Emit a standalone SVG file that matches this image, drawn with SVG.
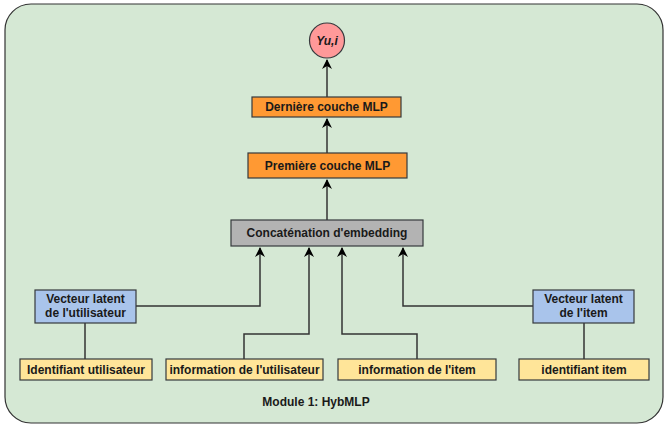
<svg xmlns="http://www.w3.org/2000/svg" width="668" height="426" viewBox="0 0 668 426">
<defs>
<style>
text{font-family:"Liberation Sans",Arial,sans-serif;font-size:12px;font-weight:bold;fill:#1a1a1a;text-anchor:middle;dominant-baseline:central}
.box{stroke:#36393d;stroke-width:1.2}
.or{fill:#FF9933}
.gr{fill:#B3B3B3}
.bl{fill:#A9C4EB}
.ye{fill:#FFE599}
.c{fill:none;stroke:#333;stroke-width:1.5}
</style>
<marker id="ar" viewBox="0 0 10 10" refX="9" refY="5" markerWidth="10" markerHeight="10" markerUnits="userSpaceOnUse" orient="auto">
<path d="M0,0 L10,5 L0,10 L3,5 Z" fill="#000"/>
</marker>
</defs>
<rect id="container" x="5" y="4" width="658" height="419" rx="26" fill="#D5E8D4" stroke="#333" stroke-width="1.2"/>
<g id="connectors">
<path class="c" d="M136,306 H260 V248" marker-end="url(#ar)"/>
<path class="c" d="M244,359 V334 H309 V248" marker-end="url(#ar)"/>
<path class="c" d="M417,359 V334 H342 V248" marker-end="url(#ar)"/>
<path class="c" d="M533,306 H403 V248" marker-end="url(#ar)"/>
<path class="c" d="M85,323 V359"/>
<path class="c" d="M584,323 V359"/>
<path class="c" d="M327,220 V180" marker-end="url(#ar)"/>
<path class="c" d="M327,153 V119" marker-end="url(#ar)"/>
<path class="c" d="M327,97 V60" marker-end="url(#ar)"/>
</g>
<g id="output"><circle class="box" cx="327" cy="40.5" r="17.5" fill="#FF9999"/><text x="327" y="41" font-style="italic">Yu,i</text></g>
<g id="derniere"><rect class="box or" x="252" y="97" width="149" height="20"/><text x="326.5" y="107">Dernière couche MLP</text></g>
<g id="premiere"><rect class="box or" x="248" y="153" width="159" height="25"/><text x="327.5" y="165.5">Première couche MLP</text></g>
<g id="concat"><rect class="box gr" x="231" y="220" width="192" height="26"/><text x="327" y="233">Concaténation d'embedding</text></g>
<g id="vec-user"><rect class="box bl" x="35" y="290" width="101" height="33"/><text x="85.5" y="299">Vecteur latent</text><text x="85.5" y="313">de l'utilisateur</text></g>
<g id="vec-item"><rect class="box bl" x="533" y="290" width="101" height="33"/><text x="583.5" y="299">Vecteur latent</text><text x="583.5" y="313">de l'item</text></g>
<g id="id-user"><rect class="box ye" x="20" y="359" width="132" height="21"/><text x="86" y="369.5">Identifiant utilisateur</text></g>
<g id="info-user"><rect class="box ye" x="166" y="359" width="157" height="21"/><text x="244.5" y="369.5">information de l'utilisateur</text></g>
<g id="info-item"><rect class="box ye" x="338" y="359" width="158" height="21"/><text x="417" y="369.5">information de l'item</text></g>
<g id="id-item"><rect class="box ye" x="519" y="359" width="130" height="21"/><text x="584" y="369.5">identifiant item</text></g>
<text x="316" y="402" font-size="11">Module 1: HybMLP</text>
</svg>
